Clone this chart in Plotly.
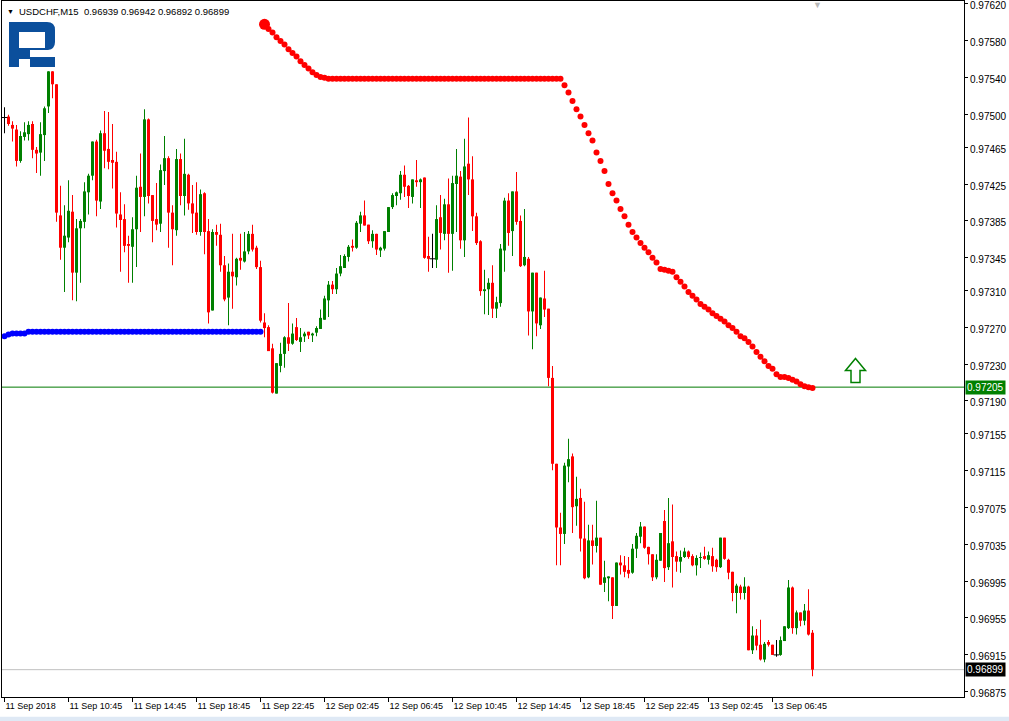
import plotly.graph_objects as go

# ---------------- data (USDCHF M15, bar index 0 = 11 Sep 2018 06:45) ----------------
opens = [
0.97497,0.97498,0.97489,0.97484,0.97450,0.97476,0.97479,0.97490,0.97462,0.97459,
0.97478,0.97509,0.97547,0.97533,0.97391,0.97356,0.97367,0.97395,0.97329,0.97377,
0.97384,0.97416,0.97434,0.97471,0.97406,0.97480,0.97463,0.97451,0.97449,0.97392,
0.97387,0.97360,0.97357,0.97376,0.97422,0.97411,0.97495,0.97413,0.97387,0.97382,
0.97439,0.97453,0.97394,0.97375,0.97452,0.97412,0.97435,0.97404,0.97394,0.97373,
0.97415,0.97374,0.97288,0.97373,0.97370,0.97337,0.97302,0.97330,0.97324,0.97345,
0.97341,0.97352,0.97371,0.97356,0.97335,0.97275,0.97270,0.97247,0.97198,0.97228,
0.97241,0.97259,0.97252,0.97270,0.97254,0.97260,0.97265,0.97261,0.97264,0.97268,
0.97278,0.97299,0.97316,0.97311,0.97328,0.97334,0.97346,0.97358,0.97356,0.97382,
0.97391,0.97381,0.97363,0.97371,0.97353,0.97355,0.97373,0.97400,0.97412,0.97415,
0.97435,0.97423,0.97411,0.97429,0.97427,0.97432,0.97347,0.97344,0.97343,0.97389,
0.97371,0.97403,0.97371,0.97425,0.97433,0.97364,0.97447,0.97430,0.97390,0.97363,
0.97309,0.97311,0.97318,0.97290,0.97296,0.97353,0.97407,0.97374,0.97417,0.97385,
0.97337,0.97344,0.97287,0.97329,0.97272,0.97301,0.97290,0.97215,0.97122,0.97053,
0.97046,0.97119,0.97130,0.97076,0.97085,0.97041,0.96999,0.97039,0.97033,0.97042,
0.96993,0.96998,0.96999,0.96968,0.97015,0.97012,0.97007,0.97004,0.97030,0.97043,
0.97054,0.97032,0.97024,0.96999,0.97017,0.97060,0.97010,0.97038,0.97022,0.97016,
0.97021,0.97027,0.97022,0.97012,0.97020,0.97022,0.97018,0.97022,0.97018,0.97010,
0.97042,0.97018,0.97005,0.96982,0.96989,0.96982,0.96989,0.96920,0.96936,0.96926,
0.96910,0.96929,0.96926,0.96915,0.96915,0.96930,0.96944,0.96988,0.96944,0.96961,
0.96952,0.96963,0.96939]

highs = [
0.97508,0.97500,0.97493,0.97489,0.97482,0.97492,0.97493,0.97493,0.97465,0.97492,
0.97509,0.97547,0.97547,0.97533,0.97423,0.97402,0.97429,0.97413,0.97387,0.97387,
0.97427,0.97436,0.97471,0.97473,0.97483,0.97504,0.97503,0.97490,0.97460,0.97416,
0.97403,0.97369,0.97389,0.97434,0.97458,0.97506,0.97496,0.97413,0.97426,0.97446,
0.97477,0.97455,0.97402,0.97463,0.97458,0.97474,0.97436,0.97424,0.97427,0.97419,
0.97416,0.97387,0.97376,0.97381,0.97382,0.97347,0.97339,0.97371,0.97345,0.97371,
0.97373,0.97374,0.97381,0.97358,0.97342,0.97285,0.97272,0.97252,0.97231,0.97253,
0.97260,0.97296,0.97274,0.97280,0.97269,0.97265,0.97265,0.97264,0.97271,0.97289,
0.97304,0.97320,0.97320,0.97334,0.97348,0.97349,0.97359,0.97365,0.97385,0.97395,
0.97407,0.97381,0.97375,0.97371,0.97357,0.97374,0.97400,0.97415,0.97417,0.97439,
0.97445,0.97424,0.97430,0.97451,0.97431,0.97432,0.97368,0.97371,0.97402,0.97413,
0.97409,0.97431,0.97434,0.97463,0.97439,0.97474,0.97497,0.97455,0.97394,0.97364,
0.97332,0.97323,0.97337,0.97303,0.97360,0.97410,0.97415,0.97417,0.97438,0.97391,
0.97398,0.97346,0.97329,0.97329,0.97302,0.97331,0.97290,0.97228,0.97122,0.97069,
0.97123,0.97149,0.97133,0.97108,0.97095,0.97081,0.97056,0.97056,0.97082,0.97042,
0.97017,0.97000,0.96999,0.97015,0.97023,0.97022,0.97021,0.97035,0.97047,0.97059,
0.97054,0.97032,0.97024,0.97024,0.97047,0.97072,0.97085,0.97078,0.97027,0.97028,
0.97031,0.97028,0.97024,0.97023,0.97026,0.97032,0.97027,0.97031,0.97019,0.97042,
0.97042,0.97019,0.97005,0.96992,0.96991,0.96999,0.96990,0.96946,0.96943,0.96953,
0.96929,0.96931,0.96926,0.96931,0.96935,0.96946,0.96996,0.96989,0.96963,0.96961,
0.96970,0.96986,0.96942]

lows = [
0.97480,0.97488,0.97471,0.97444,0.97448,0.97472,0.97472,0.97453,0.97437,0.97434,
0.97450,0.97502,0.97518,0.97384,0.97343,0.97308,0.97362,0.97299,0.97298,0.97318,
0.97377,0.97392,0.97429,0.97390,0.97398,0.97442,0.97441,0.97420,0.97378,0.97330,
0.97351,0.97318,0.97318,0.97335,0.97373,0.97390,0.97404,0.97362,0.97375,0.97373,
0.97424,0.97356,0.97337,0.97369,0.97402,0.97391,0.97397,0.97372,0.97370,0.97369,
0.97349,0.97274,0.97288,0.97358,0.97330,0.97298,0.97272,0.97290,0.97315,0.97332,
0.97340,0.97349,0.97352,0.97333,0.97275,0.97259,0.97244,0.97198,0.97198,0.97221,
0.97226,0.97244,0.97251,0.97255,0.97243,0.97254,0.97257,0.97254,0.97260,0.97268,
0.97278,0.97281,0.97306,0.97306,0.97325,0.97334,0.97341,0.97352,0.97355,0.97373,
0.97380,0.97360,0.97356,0.97348,0.97346,0.97353,0.97373,0.97398,0.97402,0.97408,
0.97411,0.97399,0.97404,0.97422,0.97399,0.97344,0.97330,0.97334,0.97334,0.97354,
0.97364,0.97329,0.97331,0.97373,0.97355,0.97346,0.97413,0.97374,0.97359,0.97304,
0.97284,0.97283,0.97280,0.97280,0.97292,0.97330,0.97358,0.97347,0.97381,0.97335,
0.97336,0.97261,0.97246,0.97260,0.97268,0.97281,0.97206,0.97115,0.97012,0.97012,
0.97035,0.97102,0.97047,0.97055,0.97027,0.96997,0.96998,0.97013,0.97026,0.96991,
0.96983,0.96973,0.96954,0.96968,0.97002,0.96999,0.96998,0.97003,0.97020,0.97036,
0.97030,0.97013,0.96995,0.96997,0.97017,0.96994,0.97007,0.96988,0.97005,0.97004,
0.97020,0.97019,0.97011,0.97001,0.97009,0.97018,0.97013,0.97005,0.97005,0.97009,
0.97018,0.96997,0.96973,0.96960,0.96975,0.96975,0.96920,0.96916,0.96920,0.96909,
0.96907,0.96924,0.96915,0.96913,0.96914,0.96930,0.96943,0.96938,0.96937,0.96946,
0.96947,0.96936,0.96892]

closes = [
0.97497,0.97490,0.97485,0.97450,0.97477,0.97481,0.97489,0.97462,0.97458,0.97479,
0.97507,0.97547,0.97533,0.97394,0.97356,0.97369,0.97396,0.97329,0.97377,0.97385,
0.97417,0.97434,0.97471,0.97407,0.97480,0.97461,0.97449,0.97448,0.97393,0.97386,
0.97358,0.97358,0.97376,0.97421,0.97411,0.97495,0.97412,0.97385,0.97381,0.97440,
0.97453,0.97394,0.97376,0.97452,0.97412,0.97436,0.97404,0.97393,0.97373,0.97414,
0.97373,0.97286,0.97373,0.97370,0.97337,0.97300,0.97330,0.97325,0.97344,0.97342,
0.97352,0.97371,0.97354,0.97335,0.97277,0.97269,0.97244,0.97199,0.97231,0.97241,
0.97259,0.97252,0.97263,0.97256,0.97259,0.97263,0.97261,0.97263,0.97269,0.97280,
0.97301,0.97316,0.97311,0.97328,0.97336,0.97347,0.97357,0.97356,0.97383,0.97391,
0.97380,0.97363,0.97371,0.97354,0.97356,0.97374,0.97400,0.97413,0.97416,0.97435,
0.97422,0.97412,0.97430,0.97427,0.97430,0.97345,0.97344,0.97344,0.97387,0.97372,
0.97403,0.97371,0.97426,0.97434,0.97364,0.97444,0.97430,0.97390,0.97361,0.97309,
0.97311,0.97318,0.97290,0.97297,0.97355,0.97407,0.97372,0.97417,0.97384,0.97336,
0.97346,0.97287,0.97329,0.97274,0.97302,0.97289,0.97215,0.97122,0.97053,0.97046,
0.97120,0.97127,0.97075,0.97084,0.97041,0.96998,0.97039,0.97033,0.97042,0.96991,
0.96999,0.97000,0.96968,0.97015,0.97012,0.97005,0.97003,0.97030,0.97044,0.97054,
0.97031,0.97024,0.96999,0.97018,0.97047,0.97009,0.97036,0.97021,0.97016,0.97021,
0.97027,0.97021,0.97012,0.97020,0.97021,0.97019,0.97023,0.97011,0.97010,0.97042,
0.97019,0.97004,0.96982,0.96990,0.96982,0.96989,0.96920,0.96936,0.96925,0.96910,
0.96927,0.96926,0.96915,0.96915,0.96931,0.96946,0.96988,0.96944,0.96961,0.96952,
0.96963,0.96937,0.96899]

# blue indicator dots (bars 0..64)
blue_start = 0
blue_values = [
0.97260,0.97262,0.97263,0.97263,0.97263,0.97263,0.97265,0.97265,0.97265,0.97265,
0.97265,0.97265,0.97265,0.97265,0.97265,0.97265,0.97265,0.97265,0.97265,0.97265,
0.97265,0.97265,0.97265,0.97265,0.97265,0.97265,0.97265,0.97265,0.97265,0.97265,
0.97265,0.97265,0.97265,0.97265,0.97265,0.97265,0.97265,0.97265,0.97265,0.97265,
0.97265,0.97265,0.97265,0.97265,0.97265,0.97265,0.97265,0.97265,0.97265,0.97265,
0.97265,0.97265,0.97265,0.97265,0.97265,0.97265,0.97265,0.97265,0.97265,0.97265,
0.97265,0.97265,0.97265,0.97265,0.97265]

# red indicator dots (bars 65..202)
red_start = 65
red_values = [
0.97598,0.97593,0.97589,0.97584,0.97580,0.97576,0.97571,0.97567,0.97563,0.97558,
0.97554,0.97550,0.97546,0.97543,0.97541,0.97540,0.97539,0.97539,0.97539,0.97539,
0.97539,0.97539,0.97539,0.97539,0.97539,0.97539,0.97539,0.97539,0.97539,0.97539,
0.97539,0.97539,0.97539,0.97539,0.97539,0.97539,0.97539,0.97539,0.97539,0.97539,
0.97539,0.97539,0.97539,0.97539,0.97539,0.97539,0.97539,0.97539,0.97539,0.97539,
0.97539,0.97539,0.97539,0.97539,0.97539,0.97539,0.97539,0.97539,0.97539,0.97539,
0.97539,0.97539,0.97539,0.97539,0.97539,0.97539,0.97539,0.97539,0.97539,0.97539,
0.97539,0.97539,0.97539,0.97539,0.97539,
0.97532,0.97524,0.97515,0.97506,0.97498,0.97489,0.97480,0.97472,0.97459,0.97450,
0.97439,0.97425,0.97415,0.97407,0.97398,0.97390,0.97381,0.97373,0.97367,0.97361,
0.97356,0.97351,0.97345,0.97340,0.97333,0.97332,0.97331,0.97330,0.97324,0.97319,
0.97314,0.97308,0.97304,0.97300,0.97295,0.97292,0.97289,0.97285,0.97282,0.97279,
0.97276,0.97272,0.97269,0.97265,0.97260,0.97258,0.97254,0.97249,0.97243,0.97238,
0.97233,0.97228,0.97225,0.97219,0.97216,0.97216,0.97215,0.97213,0.97211,0.97208,
0.97206,0.97205,0.97204]

# x-axis labels (every 16 bars)
tick_bars = [0, 16, 32, 48, 64, 80, 96, 112, 128, 144, 160, 176, 192]
tick_labels = ["11 Sep 2018", "11 Sep 10:45", "11 Sep 14:45", "11 Sep 18:45", "11 Sep 22:45",
               "12 Sep 02:45", "12 Sep 06:45", "12 Sep 10:45", "12 Sep 14:45", "12 Sep 18:45",
               "12 Sep 22:45", "13 Sep 02:45", "13 Sep 06:45"]

price_ticks = [0.97620, 0.97580, 0.97540, 0.97500, 0.97465, 0.97425, 0.97385, 0.97345, 0.97310,
               0.97270, 0.97230, 0.97190, 0.97155, 0.97115, 0.97075, 0.97035, 0.96995, 0.96955,
               0.96915, 0.96875]

level_price = 0.97205      # green horizontal level
bid_price = 0.96899        # last price
arrow_bar, arrow_price = 212.75, 0.97236   # buy arrow tip

title_text = "USDCHF,M15\u00a0\u00a00.96939 0.96942 0.96892 0.96899"

# ---------------- figure ----------------
FONT = "Liberation Sans, Arial, sans-serif"
UP, DN, DJ = "#008000", "#ff0000", "#000000"

n = len(opens)
xs = list(range(n))
colors = [UP if c > o else (DN if c < o else DJ) for o, c in zip(opens, closes)]

fig = go.Figure()

# wicks
fig.add_trace(go.Bar(
    x=xs, y=[h - l for h, l in zip(highs, lows)], base=lows, width=0.25,
    marker=dict(color=colors, line=dict(width=0)), hoverinfo="skip", showlegend=False))
# bodies
fig.add_trace(go.Bar(
    x=xs, y=[abs(c - o) for o, c in zip(opens, closes)],
    base=[min(o, c) for o, c in zip(opens, closes)], width=0.75,
    marker=dict(color=colors, line=dict(width=0)), hoverinfo="skip", showlegend=False))
# doji bars
dj = [i for i in xs if opens[i] == closes[i]]
fig.add_trace(go.Scatter(
    x=dj, y=[opens[i] for i in dj], mode="markers",
    marker=dict(symbol="line-ew", size=4, line=dict(width=1, color=DJ)),
    hoverinfo="skip", showlegend=False))

# blue dots
fig.add_trace(go.Scatter(
    x=list(range(blue_start, blue_start + len(blue_values))), y=blue_values, mode="markers",
    marker=dict(color="#0000ff", size=6, line=dict(width=0)), hoverinfo="skip", showlegend=False))
# red dots
fig.add_trace(go.Scatter(
    x=list(range(red_start, red_start + len(red_values))), y=red_values, mode="markers",
    marker=dict(color="#ff0000", size=6, line=dict(width=0)), hoverinfo="skip", showlegend=False))
fig.add_trace(go.Scatter(
    x=[red_start], y=[red_values[0]], mode="markers",
    marker=dict(color="#ff0000", size=11, line=dict(width=0)), hoverinfo="skip", showlegend=False))

shapes = [
    dict(type="line", xref="paper", x0=0, x1=1, yref="y", y0=level_price, y1=level_price,
         line=dict(color="#007a00", width=1), layer="below"),
    dict(type="line", xref="paper", x0=0, x1=1, yref="y", y0=bid_price, y1=bid_price,
         line=dict(color="#c0c0c0", width=1), layer="below"),
    # buy arrow (outline), pixel offsets relative to tip
    dict(type="path", xref="x", yref="y", xsizemode="pixel", ysizemode="pixel",
         xanchor=arrow_bar, yanchor=arrow_price,
         path="M0,0 L10,-12 L4.5,-12 L4.5,-24 L-4.5,-24 L-4.5,-12 L-10,-12 Z",
         line=dict(color="#008000", width=1.5), fillcolor="white"),
    # logo "R"
    dict(type="path", xref="paper", yref="paper", xsizemode="pixel", ysizemode="pixel",
         xanchor=0, yanchor=1,
         path=("M7,-21 L45,-21 Q53,-21 53,-29 L53,-41 Q53,-48 46,-49 L28,-49 L28,-56 "
               "L53,-56 L53,-66 L28,-66 L28,-58 L17,-58 L17,-66 L7,-66 Z "
               "M17,-31 L17,-47 L43,-47 L43,-31 Z"),
         line=dict(width=0), fillcolor="#0b4f9c"),
    # bottom window strip
    dict(type="rect", xref="paper", yref="paper", x0=-0.01, x1=1.06,
         y0=-0.05, y1=-0.0285, line=dict(width=0), fillcolor="#dfe9f5", layer="below"),
]

annotations = [
    dict(xref="paper", yref="paper", x=0, y=1, xshift=3, yshift=-10, xanchor="left",
         yanchor="middle", showarrow=False, text="\u25bc",
         font=dict(family=FONT, size=7, color="black")),
    dict(xref="paper", yref="paper", x=0, y=1, xshift=15, yshift=-10, xanchor="left",
         yanchor="middle", showarrow=False, text=title_text,
         font=dict(family=FONT, size=9.5, color="black")),
    dict(xref="paper", yref="y", x=1, y=level_price, xanchor="left", yanchor="middle",
         showarrow=False, text=f"{level_price:.5f}", bgcolor="#008000", borderpad=1,
         xshift=1, font=dict(family=FONT, size=10, color="white")),
    dict(xref="paper", yref="y", x=1, y=bid_price, xanchor="left", yanchor="middle",
         showarrow=False, text=f"{bid_price:.5f}", bgcolor="#000000", borderpad=1,
         xshift=1, font=dict(family=FONT, size=10, color="white")),
    dict(xref="paper", yref="paper", x=0.848, y=1, yshift=-4, xanchor="center",
         yanchor="middle", showarrow=False, text="\u25bc",
         font=dict(family=FONT, size=9, color="#b8b8b8")),
]

fig.update_layout(
    width=1009, height=721,
    margin=dict(l=2, r=45, t=1, b=24, autoexpand=False),
    paper_bgcolor="white", plot_bgcolor="white",
    barmode="overlay", showlegend=False, hovermode=False,
    font=dict(family=FONT, size=10, color="black"),
    shapes=shapes, annotations=annotations,
    xaxis=dict(range=[-0.625, 239.875], showgrid=False, zeroline=False,
               showline=True, linecolor="black", linewidth=1, mirror=True,
               tickmode="array", tickvals=tick_bars, ticktext=tick_labels,
               ticks="outside", ticklen=4, tickcolor="black",
               ticklabelposition="outside right", ticklabeloverflow="allow",
               tickfont=dict(family=FONT, size=9, color="black")),
    yaxis=dict(range=[0.968694, 0.976232], side="right", showgrid=False, zeroline=False,
               showline=True, linecolor="black", linewidth=1, mirror=True,
               tickmode="array", tickvals=price_ticks,
               ticktext=[f"{p:.5f}" for p in price_ticks],
               ticks="outside", ticklen=3, tickcolor="black", ticklabeloverflow="allow",
               ticklabelshift=2,
               tickfont=dict(family=FONT, size=10, color="black")),
)

fig.write_html("out.html", config={"displayModeBar": False, "staticPlot": True},
               post_script="document.body.style.margin='0px';document.body.style.overflow='hidden';")
